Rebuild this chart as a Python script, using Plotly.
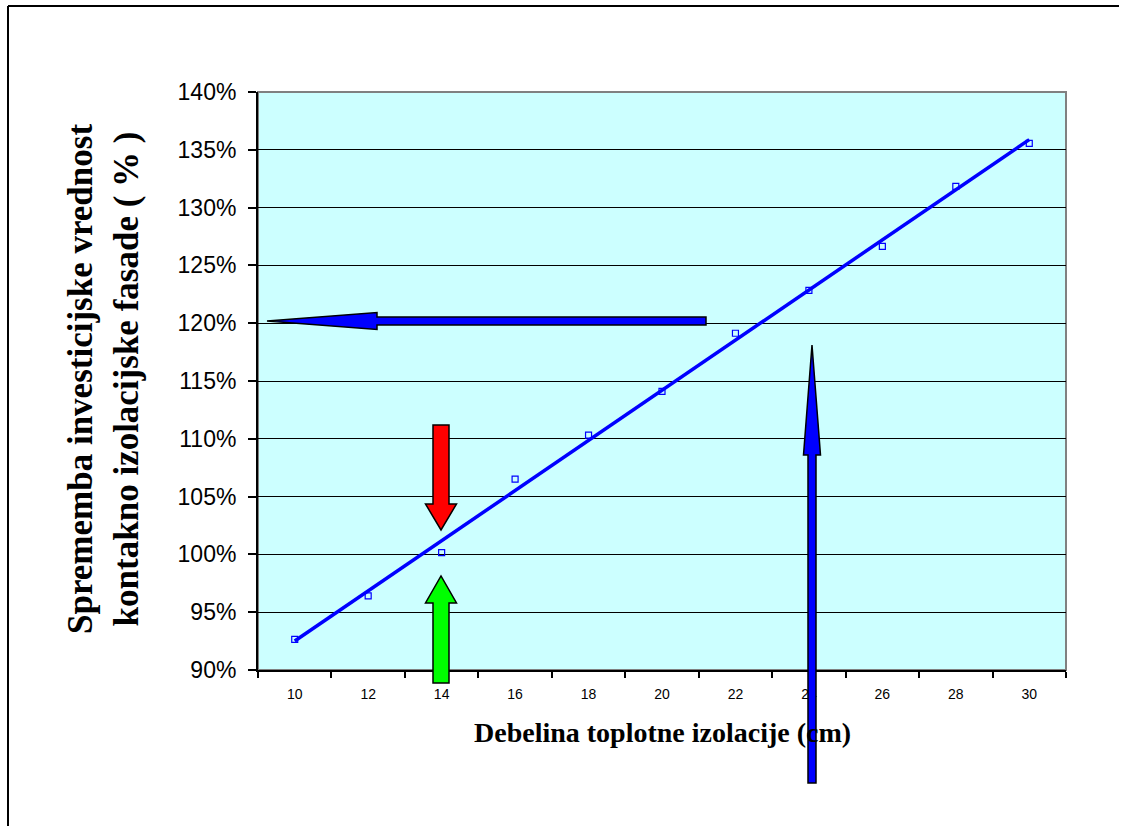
import numpy as np
import plotly.graph_objects as go

# ---- data ----
thickness_cm = [10, 12, 14, 16, 18, 20, 22, 24, 26, 28, 30]
cost_change = [0.9265, 0.9642, 1.0015, 1.0651, 1.1031, 1.1411, 1.1913, 1.2284, 1.2665, 1.3183, 1.3555]
y_tick_vals = [0.90, 0.95, 1.00, 1.05, 1.10, 1.15, 1.20, 1.25, 1.30, 1.35, 1.40]
x_tick_vals = thickness_cm
x_boundaries = [9, 11, 13, 15, 17, 19, 21, 23, 25, 27, 29, 31]

# linear trendline (as in the original spreadsheet chart)
coef = np.polyfit(thickness_cm, cost_change, 1)
trend_x = [thickness_cm[0], thickness_cm[-1]]
trend_y = list(np.polyval(coef, trend_x))

W, H = 1128, 826
PL, PR, PT, PB = 258, 1066, 92, 670  # plot area in pixels


def px(x):
    return (x - PL) / (PR - PL)


def py(y):
    return (PB - y) / (PB - PT)


def arrow_path(cx, cy, tip, tail, shaft_half, head_base, head_half, horizontal):
    # builds a block arrow polygon in paper coordinates from pixel geometry
    if horizontal:
        pts = [(tail, cy - shaft_half), (head_base, cy - shaft_half), (head_base, cy - head_half),
               (tip, cy), (head_base, cy + head_half), (head_base, cy + shaft_half),
               (tail, cy + shaft_half)]
    else:
        pts = [(cx - shaft_half, tail), (cx - shaft_half, head_base), (cx - head_half, head_base),
               (cx, tip), (cx + head_half, head_base), (cx + shaft_half, head_base),
               (cx + shaft_half, tail)]
    d = "M " + " L ".join(f"{px(a):.5f},{py(b):.5f}" for a, b in pts) + " Z"
    return d


fig = go.Figure()

fig.add_trace(go.Scatter(
    x=trend_x, y=trend_y, mode="lines",
    line=dict(color="#0000FF", width=3.5), hoverinfo="skip", showlegend=False))

fig.add_trace(go.Scatter(
    x=thickness_cm, y=cost_change, mode="markers",
    marker=dict(symbol="square-open", size=6, color="#0000FF", line=dict(width=1.2)),
    showlegend=False))

shapes = []
# plot frame (gray right/top border)
shapes.append(dict(type="rect", xref="paper", yref="paper", x0=0, x1=1, y0=0, y1=1,
                   line=dict(color="#808080", width=2), layer="below"))
# outer chart border (top and left visible)
shapes.append(dict(type="line", xref="paper", yref="paper", x0=px(8), x1=px(1119), y0=py(6), y1=py(6),
                   line=dict(color="#000000", width=2)))
shapes.append(dict(type="line", xref="paper", yref="paper", x0=px(8), x1=px(8), y0=py(6), y1=py(830),
                   line=dict(color="#000000", width=2)))

arrows = [
    # (cx, cy, tip, tail, shaft_half, head_base, head_half, horizontal, color)
    (None, 321, 267, 706, 4, 377, 8.5, True, "#0000FF"),
    (812, None, 345, 783, 4, 455, 8.5, False, "#0000FF"),
    (441, None, 530, 425, 8, 504, 15.5, False, "#FF0000"),
    (441, None, 576, 683, 8, 603, 15.5, False, "#00FF00"),
]
for cx, cy, tip, tail, sh, hb, hh, hor, col in arrows:
    shapes.append(dict(type="path", xref="paper", yref="paper",
                       path=arrow_path(cx, cy, tip, tail, sh, hb, hh, hor),
                       fillcolor=col, line=dict(color="#000000", width=1.5), layer="above"))

fig.update_layout(
    width=W, height=H,
    margin=dict(l=PL, r=W - PR, t=PT, b=H - PB, pad=0),
    paper_bgcolor="#FFFFFF",
    plot_bgcolor="#CCFFFF",
    showlegend=False,
    shapes=shapes,
    font=dict(family="Liberation Sans, Arial, sans-serif", color="#000000"),
)

fig.update_xaxes(
    range=[9, 31], tickmode="array", tickvals=x_tick_vals,
    ticktext=[str(v) for v in x_tick_vals], ticks="", showgrid=False, zeroline=False,
    tickfont=dict(size=14, family="Liberation Sans, Arial, sans-serif"),
    ticklabelstandoff=10,
    showline=True, linecolor="#000000", linewidth=2,
    minor=dict(tickmode="array", tickvals=x_boundaries, ticks="outside", ticklen=6,
               tickcolor="#000000", tickwidth=1.5, showgrid=False),
)

fig.update_yaxes(
    range=[0.9, 1.4], tickmode="array", tickvals=y_tick_vals, tickformat=".0%",
    ticks="outside", ticklen=8, tickcolor="#000000", tickwidth=1.5,
    tickfont=dict(size=23, family="Liberation Sans, Arial, sans-serif"),
    ticklabelstandoff=7,
    showgrid=True, gridcolor="#000000", gridwidth=1, zeroline=False,
    showline=True, linecolor="#000000", linewidth=2,
)

fig.add_annotation(
    xref="paper", yref="paper", x=px(104), y=py(379), xanchor="center", yanchor="middle",
    text="<b>Sprememba investicijske vrednost<br>kontakno izolacijske fasade ( % )</b>",
    textangle=-90, showarrow=False,
    font=dict(family="Liberation Serif, Times New Roman, serif", size=35, color="#000000"))

fig.add_annotation(
    xref="paper", yref="paper", x=px(662), y=py(732), xanchor="center", yanchor="middle",
    text="<b>Debelina toplotne izolacije (cm)</b>", showarrow=False,
    font=dict(family="Liberation Serif, Times New Roman, serif", size=28, color="#000000"))

fig.write_html("out.html")
